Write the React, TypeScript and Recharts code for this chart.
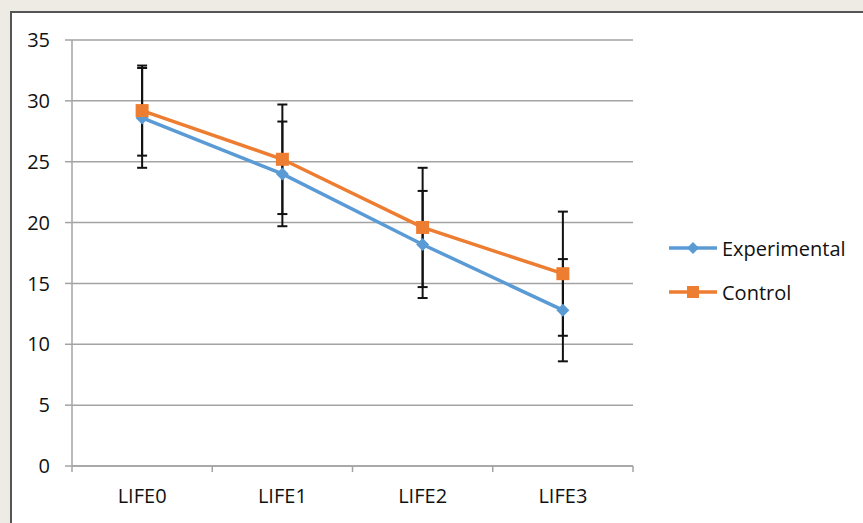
import React from "react";
import { LineChart, Line, XAxis, YAxis, CartesianGrid, ErrorBar } from "recharts";

const categories = ["LIFE0", "LIFE1", "LIFE2", "LIFE3"];
const experimental = [28.6, 24.0, 18.2, 12.8];
const experimentalErr = [4.1, 4.3, 4.4, 4.2];
const control = [29.2, 25.2, 19.6, 15.8];
const controlErr = [3.7, 4.5, 4.9, 5.1];
const yTicks = [0, 5, 10, 15, 20, 25, 30, 35];

const BLUE = "#5b9bd5";
const ORANGE = "#ed7d31";
const GRID = "#a3a3a3";
const FONT = "'Open Sans', sans-serif";

const data = categories.map((name, i) => ({
  idx: i,
  name,
  experimental: experimental[i],
  experimentalErr: experimentalErr[i],
  control: control[i],
  controlErr: controlErr[i],
}));

// ticks at band edges (tick marks) and band centres (labels)
const xTicks: number[] = [];
for (let i = 0; i <= categories.length * 2; i++) xTicks.push(i / 2 - 0.5);

function XTick(props: any) {
  const { x, y, payload } = props;
  const v = payload.value as number;
  if (Number.isInteger(v)) {
    return (
      <text x={x} y={y + 37} textAnchor="middle" fill="#111" fontSize={20} fontFamily={FONT}>
        {categories[v]}
      </text>
    );
  }
  return <line x1={x} y1={y} x2={x} y2={y + 6} stroke={GRID} strokeWidth={1.5} />;
}

function Diamond(props: any) {
  const { cx, cy, index } = props;
  if (cx == null || cy == null) return <g key={`d-${index}`} />;
  const r = 6.5;
  return (
    <path
      key={`d-${index}`}
      d={`M${cx},${cy - r}L${cx + r},${cy}L${cx},${cy + r}L${cx - r},${cy}Z`}
      fill={BLUE}
    />
  );
}

function Square(props: any) {
  const { cx, cy, index } = props;
  if (cx == null || cy == null) return <g key={`s-${index}`} />;
  const h = 6.5;
  return <rect key={`s-${index}`} x={cx - h} y={cy - h} width={h * 2} height={h * 2} fill={ORANGE} />;
}

function LegendBox() {
  const rows = [
    { label: "Experimental", color: BLUE, shape: "diamond" },
    { label: "Control", color: ORANGE, shape: "square" },
  ];
  return (
    <div
      style={{
        position: "absolute",
        left: 667,
        top: 226,
        fontFamily: FONT,
        fontSize: 20,
        color: "#111",
      }}
    >
      {rows.map((r) => (
        <div key={r.label} style={{ display: "flex", alignItems: "center", height: 44 }}>
          <svg width={52} height={16} style={{ marginRight: 3 }}>
            <line x1={2} y1={8} x2={50} y2={8} stroke={r.color} strokeWidth={3.5} />
            {r.shape === "diamond" ? (
              <path d="M26,2L32,8L26,14L20,8Z" fill={r.color} />
            ) : (
              <rect x={20} y={2} width={12} height={12} fill={r.color} />
            )}
          </svg>
          <span>{r.label}</span>
        </div>
      ))}
    </div>
  );
}

export default function App() {
  return (
    <div
      style={{
        position: "absolute",
        left: 0,
        top: 0,
        width: 863,
        height: 523,
        background: "#eeebe5",
        overflow: "hidden",
      }}
    >
      <div
        style={{
          position: "absolute",
          left: 10,
          top: 11,
          width: 900,
          height: 600,
          background: "#fff",
          borderTop: "2px solid #555",
          borderLeft: "2px solid #555",
        }}
      />
      <div style={{ position: "absolute", left: 0, top: 0 }}>
        <LineChart width={863} height={523} data={data} margin={{ top: 40, right: 230, left: 22, bottom: 17 }}>
          <CartesianGrid horizontal vertical={false} stroke={GRID} strokeWidth={1.5} />
          <XAxis
            dataKey="idx"
            type="number"
            domain={[-0.5, 3.5]}
            ticks={xTicks}
            interval={0}
            allowDecimals
            tickLine={false}
            tickSize={0}
            tickMargin={0}
            axisLine={{ stroke: GRID, strokeWidth: 1.5 }}
            tick={<XTick />}
            height={40}
          />
          <YAxis
            domain={[0, 35]}
            ticks={yTicks}
            interval={0}
            width={50}
            tickSize={7}
            tickMargin={15}
            axisLine={{ stroke: GRID, strokeWidth: 1.5 }}
            tickLine={{ stroke: GRID, strokeWidth: 1.5 }}
            tick={{ fill: "#111", fontSize: 20, fontFamily: FONT }}
          />
          <Line
            type="linear"
            dataKey="experimental"
            name="Experimental"
            stroke={BLUE}
            strokeWidth={3.5}
            dot={<Diamond />}
            activeDot={false}
            isAnimationActive={false}
          >
            <ErrorBar dataKey="experimentalErr" width={5} stroke="#111" strokeWidth={2} direction="y" />
          </Line>
          <Line
            type="linear"
            dataKey="control"
            name="Control"
            stroke={ORANGE}
            strokeWidth={3.5}
            dot={<Square />}
            activeDot={false}
            isAnimationActive={false}
          >
            <ErrorBar dataKey="controlErr" width={5} stroke="#111" strokeWidth={2} direction="y" />
          </Line>
        </LineChart>
      </div>
      <LegendBox />
    </div>
  );
}
